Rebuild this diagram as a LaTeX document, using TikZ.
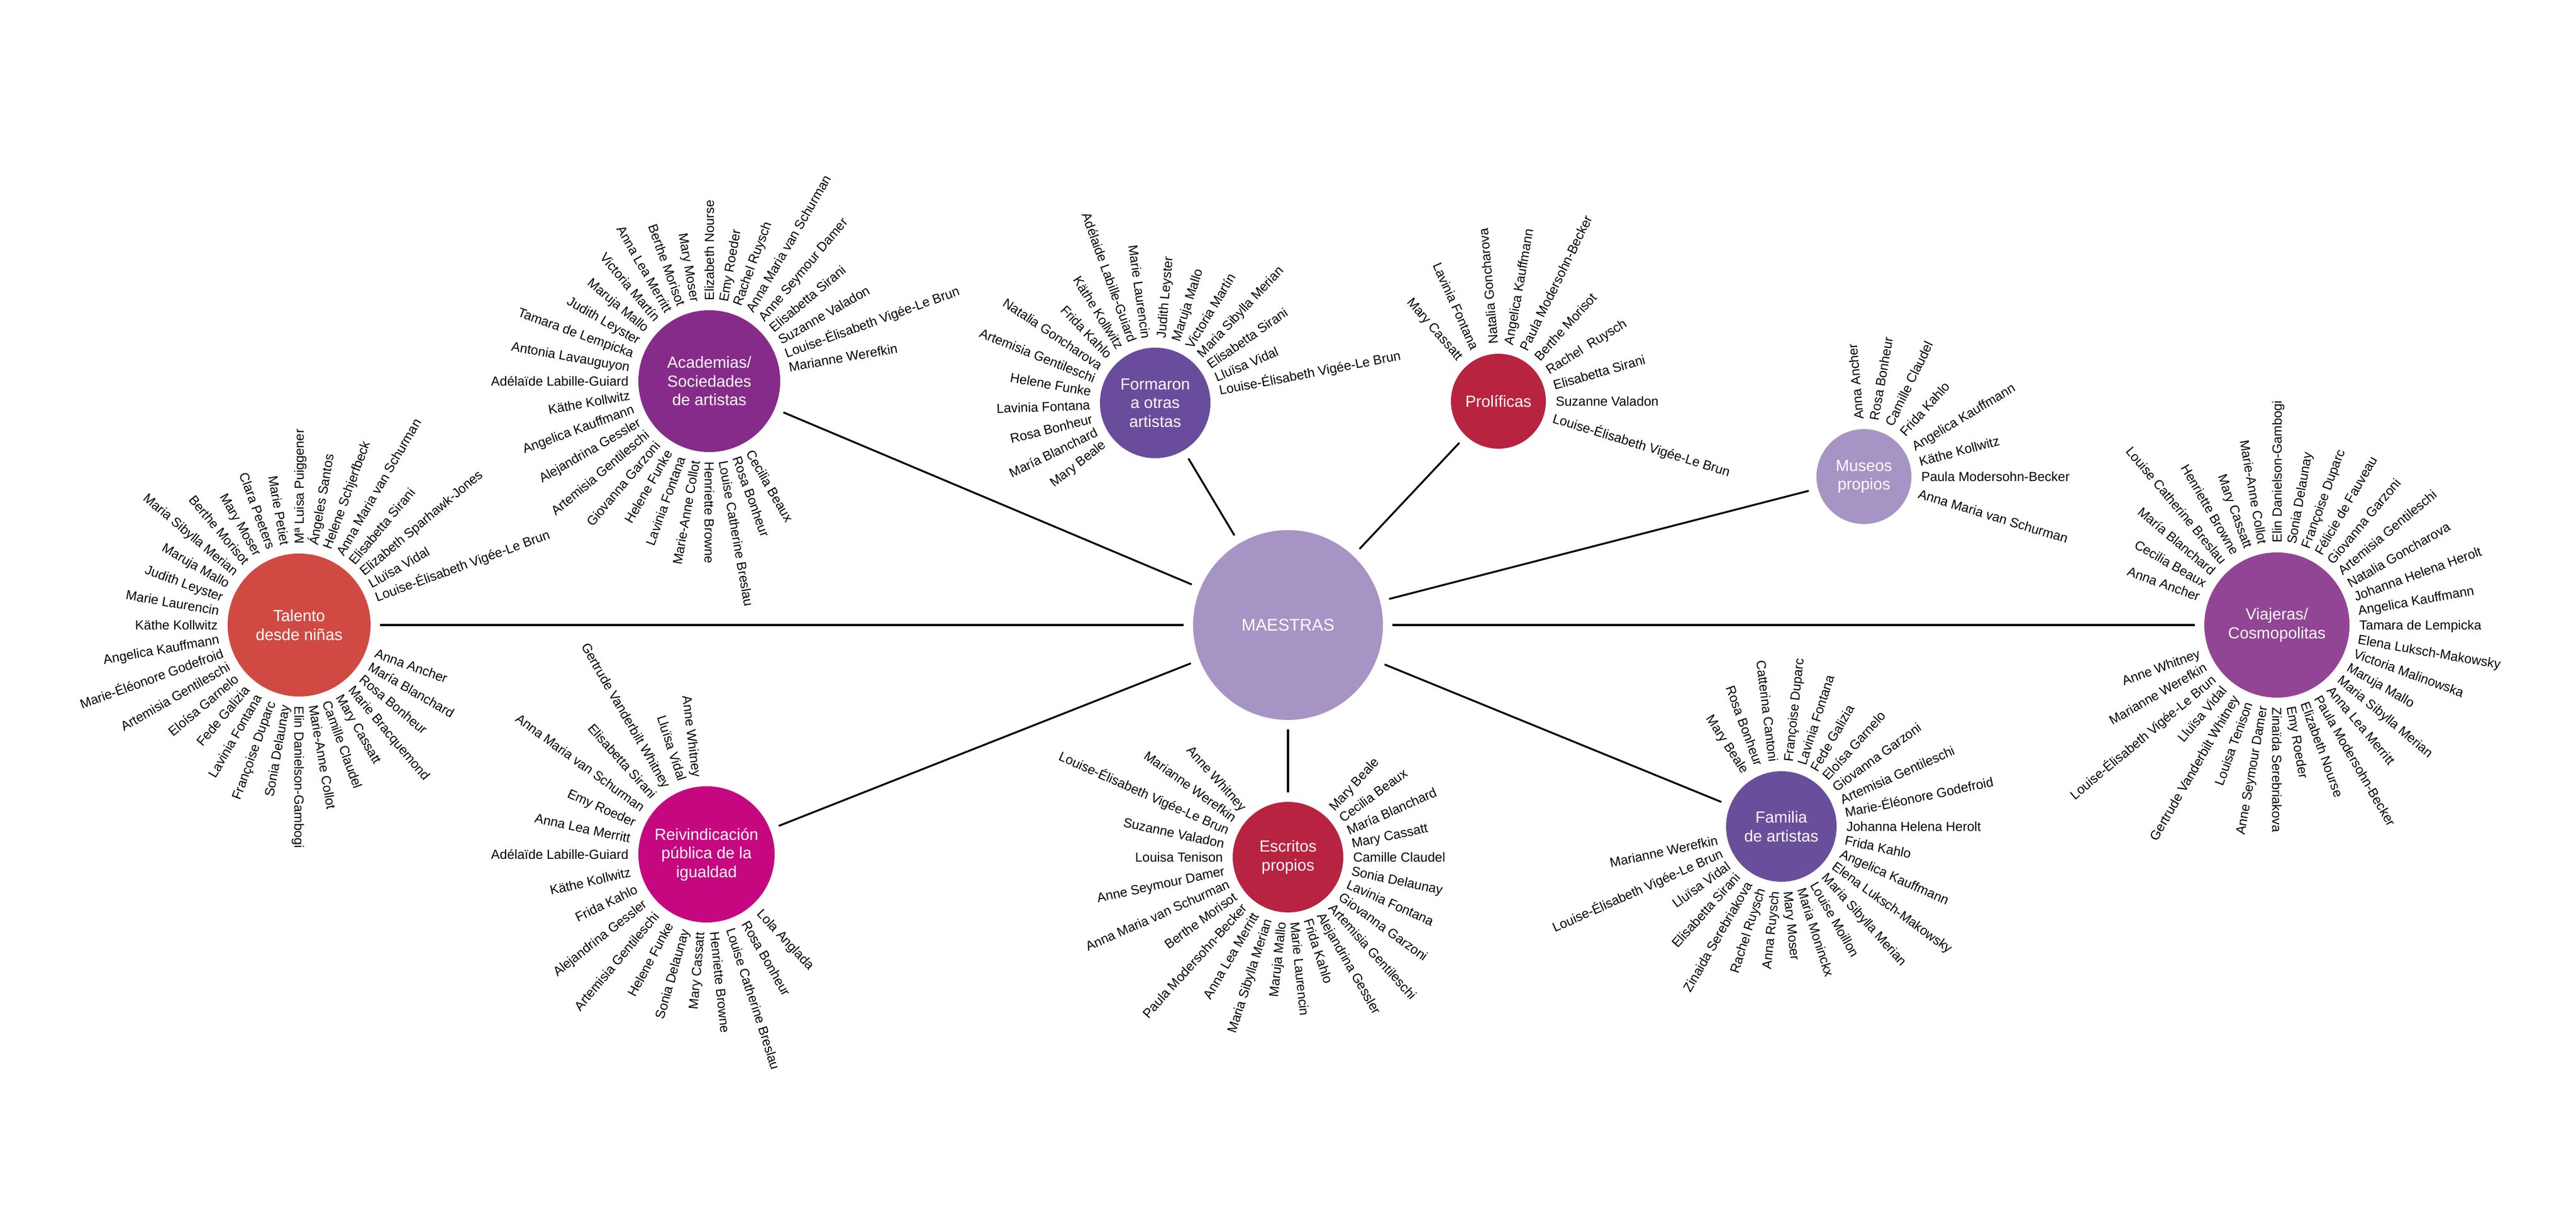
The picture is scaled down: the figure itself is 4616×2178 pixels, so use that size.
\documentclass[tikz,border=0pt]{standalone}
\usepackage{fontspec}
\setmainfont{Liberation Sans}
\definecolor{cTal}{HTML}{D04A43}
\definecolor{cAca}{HTML}{862B8A}
\definecolor{cFor}{HTML}{694D9C}
\definecolor{cPro}{HTML}{B82340}
\definecolor{cMus}{HTML}{A694C4}
\definecolor{cVia}{HTML}{924594}
\definecolor{cFam}{HTML}{694E9C}
\definecolor{cEsc}{HTML}{B82341}
\definecolor{cRei}{HTML}{C5087F}
\definecolor{cMae}{HTML}{A694C4}
\tikzset{
  lbl/.style={font=\fontsize{6.7}{8}\selectfont, inner sep=0pt, text height=4.8pt, text depth=0pt, text=black},
  hub/.style={circle, inner sep=0pt, outer sep=0pt, text=white, align=center, font=\fontsize{8.2}{9.5}\selectfont},
  conn/.style={draw=black, line width=0.95pt, shorten <=0.17cm, shorten >=0.17cm}
}
\newcommand\ringout[4]{%
  \foreach \a/\t [count=\i] in {#4} {\node[lbl, anchor=west, rotate=\a] (#3\i) at ([shift={(\a:#2)}]#1.center) {\t};}}
\newcommand\ringin[4]{%
  \foreach \a/\t [count=\i] in {#4} {\node[lbl, anchor=east, rotate=\a+180] (#3\i) at ([shift={(\a:#2)}]#1.center) {\t};}}
\begin{document}
\begin{tikzpicture}[x=0.01cm, y=0.01cm]
\fill[white] (0,0) rectangle (4616,2178);
\useasboundingbox (0,0) rectangle (4616,2178);

% hubs
\node[hub, fill=cMae, minimum size=3.40cm, font=\fontsize{8.6}{10}\selectfont] (mae) at (2308,1058) {MAESTRAS};
\node[hub, fill=cTal, minimum size=2.56cm] (tal) at (536,1058) {Talento\\desde niñas};
\node[hub, fill=cAca, minimum size=2.54cm] (aca) at (1271,1495) {Academias/\\Sociedades\\de artistas};
\node[hub, fill=cFor, minimum size=1.98cm] (for) at (2070,1456) {Formaron\\a otras\\artistas};
\node[hub, fill=cPro, minimum size=1.70cm] (pro) at (2685,1459) {Prolíficas};
\node[hub, fill=cMus, minimum size=1.70cm] (mus) at (3340,1324) {Museos\\propios};
\node[hub, fill=cVia, minimum size=2.60cm] (via) at (4080,1058) {Viajeras/\\Cosmopolitas};
\node[hub, fill=cFam, minimum size=1.98cm] (fam) at (3192,697) {Familia\\de artistas};
\node[hub, fill=cEsc, minimum size=1.98cm] (esc) at (2308,642) {Escritos\\propios};
\node[hub, fill=cRei, minimum size=2.44cm] (rei) at (1266,647) {Reivindicación\\pública de la\\igualdad};

% connectors
\foreach \h in {tal,aca,for,pro,mus,via,fam,esc,rei} {\draw[conn] (mae) -- (\h);}

% Talento desde niñas
\ringout{tal}{1.45cm}{talo}{20/Louise-Élisabeth Vigée-Le Brun, 30/Lluïsa Vidal, 40/Elizabeth Sparhawk-Jones, 50/Elisabetta Sirani, 60/Anna Maria van Schurman, 70/Helene Schjerfbeck, 80/Ángeles Santos, 90/Mª Luisa Puiggener, -90/Elin Danielson-Gambogi, -80/Marie-Anne Collot, -70/Camille Claudel, -60/Mary Cassatt, -50/Marie Bracquemond, -40/Rosa Bonheur, -30/María Blanchard, -20/Anna Ancher}
\ringin{tal}{1.45cm}{tali}{100/Marie Petiet, 110/Clara Peeters, 120/Mary Moser, 130/Berthe Morisot, 140/Maria Sibylla Merian, 150/Maruja Mallo, 160/Judith Leyster, 170/Marie Laurencin, 180/Käthe Kollwitz, 190/Angelica Kauffmann, 200/Marie-Éléonore Godefroid, 210/Artemisia Gentileschi, 220/Eloísa Garnelo, 230/Fede Galizia, 240/Lavinia Fontana, 250/Françoise Duparc, 260/Sonia Delaunay}

% Academias
\ringout{aca}{1.44cm}{acao}{10/Marianne Werefkin, 20/Louise-Élisabeth Vigée-Le Brun, 30/Suzanne Valadon, 40/Elisabetta Sirani, 50/Anne Seymour Damer, 60/Anna Maria van Schurman, 70/Rachel Ruysch, 80/Emy Roeder, 90/Elizabeth Nourse, -90/Henriette Browne, -80/Louise Catherine Breslau, -70/Rosa Bonheur, -60/Cecilia Beaux}
\ringin{aca}{1.44cm}{acai}{100/Mary Moser, 110/Berthe Morisot, 120/Anna Lea Merritt, 130/Victoria Martín, 140/Maruja Mallo, 150/Judith Leyster, 160/Tamara de Lempicka, 170/Antonia Lavauguyon, 180/Adélaïde Labille-Guiard, 190/Käthe Kollwitz, 200/Angelica Kauffmann, 210/Alejandrina Gessler, 220/Artemisia Gentileschi, 230/Giovanna Garzoni, 240/Helene Funke, 250/Lavinia Fontana, 260/Marie-Anne Collot}

% Formaron
\ringout{for}{1.16cm}{foro}{11/Louise-Élisabeth Vigée-Le Brun, 23/Lluïsa Vidal, 35/Elisabetta Sirani, 47/Maria Sibylla Merian, 59/Victoria Martín, 72/Maruja Mallo, 85/Judith Leyster}
\ringin{for}{1.16cm}{fori}{98/Marie Laurencin, 110/Adélaide Labille-Guiard, 122/Käthe Kollwitz, 134/Frida Kahlo, 146/Natalia Goncharova, 158/Artemisia Gentileschi, 170/Helene Funke, 182/Lavinia Fontana, 194/Rosa Bonheur, 206/María Blanchard, 218/Mary Beale}

% Prolificas
\ringout{pro}{1.02cm}{proo}{-17/Louise-Élisabeth Vigée-Le Brun, 0/Suzanne Valadon, 16/Elisabetta Sirani, 32/Rachel\ \ Ruysch, 48/Berthe Morisot, 64/Paula Modersohn-Becker, 80/Angelica Kauffmann, 95/Natalia Goncharova}
\ringin{pro}{1.02cm}{proi}{114/Lavinia Fontana, 131/Mary Cassatt}

% Museos
\ringout{mus}{1.02cm}{muso}{-17/Anna Maria van Schurman, 0/Paula Modersohn-Becker, 15/Käthe Kollwitz, 31/Angelica Kauffmann, 48/Frida Kahlo, 64/Camille Claudel, 80/Rosa Bonheur, 95/Anna Ancher}

% Viajeras
\ringin{via}{1.47cm}{viai}{160/Anna Ancher, 150/Cecilia Beaux, 140/María Blanchard, 130/Louise Catherine Breslau, 120/Henriette Browne, 110/Mary Cassatt, 100/Marie-Anne Collot, 260/Anne Seymour Damer, 250/Louisa Tenison, 240/Gertrude Vanderbilt Whitney, 230/Lluïsa Vidal, 220/Louise-Élisabeth Vigée-Le Brun, 210/Marianne Werefkin, 200/Anne Whitney}
\ringout{via}{1.47cm}{viao}{90/Elin Danielson-Gambogi, 80/Sonia Delaunay, 70/Françoise Duparc, 60/Félicie de Fauveau, 50/Giovanna Garzoni, 40/Artemisia Gentileschi, 30/Natalia Goncharova, 20/Johanna Helena Herolt, 10/Angelica Kauffmann, 0/Tamara de Lempicka, -10/Elena Luksch-Makowsky, -20/Victoria Malinowska, -30/Maruja Mallo, -40/Maria Sibylla Merian, -50/Anna Lea Merritt, -60/Paula Modersohn-Becker, -70/Elizabeth Nourse, -80/Emy Roeder, -90/Zinaïda Serebriakova}

% Familia
\ringout{fam}{1.16cm}{famo}{0/Johanna Helena Herolt, 12/Marie-Éléonore Godefroid, 24/Artemisia Gentileschi, 36/Giovanna Garzoni, 48/Eloísa Garnelo, 60/Fede Galizia, 72/Lavinia Fontana, 84/Françoise Duparc, -84/Mary Moser, -72/Maria Moninckx, -60/Louise Moillon, -48/Maria Sibylla Merian, -36/Elena Luksch-Makowsky, -24/Angelica Kauffmann, -12/Frida Kahlo}
\ringin{fam}{1.16cm}{fami}{97/Catterina Cantoni, 110/Rosa Bonheur, 123/Mary Beale, 192/Marianne Werefkin, 204/Louise-Élisabeth Vigée-Le Brun, 216/Lluïsa Vidal, 228/Elisabetta Sirani, 240/Zinaida Serebriakova, 252/Rachel Ruysch, 264/Anna Ruysch}

% Escritos
\ringout{esc}{1.16cm}{esco}{0/Camille Claudel, 12/Mary Cassatt, 24/María Blanchard, 36/Cecilia Beaux, 48/Mary Beale, -84/Marie Laurencin, -72/Frida Kahlo, -60/Alejandrina Gessler, -48/Artemisia Gentileschi, -36/Giovanna Garzoni, -24/Lavinia Fontana, -12/Sonia Delaunay}
\ringin{esc}{1.16cm}{esci}{132/Anne Whitney, 144/Marianne Werefkin, 156/Louise-Élisabeth Vigée-Le Brun, 168/Suzanne Valadon, 180/Louisa Tenison, 192/Anne Seymour Damer, 204/Anna Maria van Schurman, 216/Berthe Morisot, 228/Paula Modersohn-Becker, 240/Anna Lea Merritt, 252/Maria Sibylla Merian, 264/Maruja Mallo}

% Reivindicacion
\ringin{rei}{1.39cm}{reii}{97/Anne Whitney, 108/Lluïsa Vidal, 120/Gertrude Vanderbilt Whitney, 132/Elisabetta Sirani, 144/Anna Maria van Schurman, 156/Emy Roeder, 168/Anna Lea Merritt, 180/Adélaïde Labille-Guiard, 193/Käthe Kollwitz, 206/Frida Kahlo, 218/Alejandrina Gessler, 230/Artemisia Gentileschi, 242/Helene Funke, 254/Sonia Delaunay, 265/Mary Cassatt}
\ringout{rei}{1.39cm}{reio}{-84/Henriette Browne, -72/Louise Catherine Breslau, -60/Rosa Bonheur, -47/Lola Anglada}
\end{tikzpicture}
\end{document}
